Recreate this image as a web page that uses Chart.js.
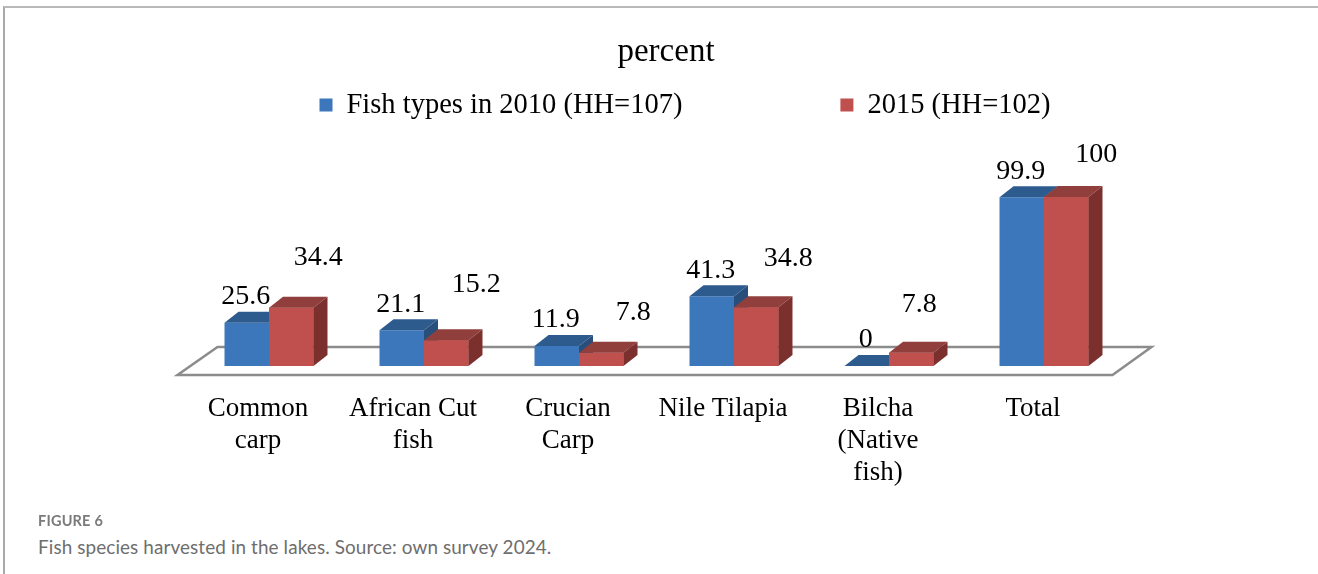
<!DOCTYPE html>
<html>
<head>
<meta charset="utf-8">
<script src="https://cdn.jsdelivr.net/npm/chart.js@4.4.1/dist/chart.umd.min.js"></script>
<style>
  html, body { margin: 0; padding: 0; background: #fff; overflow: hidden; }
  .frame { position: absolute; left: 3px; top: 6px; width: 1400px; height: 700px;
           border-top: 2px solid #b9b9b9; border-left: 2px solid #a9a9a9; }
  .wrap { position: absolute; left: 0; top: 0; width: 1318px; height: 522px; }
  .fig-no { position: absolute; left: 38px; top: 512px; font: 700 14.5px Lato, sans-serif;
            color: #7a7a7a; letter-spacing: 0.2px; }
  .fig-cap { position: absolute; left: 38px; top: 535px; font: 400 18.9px Lato, sans-serif;
             color: #6e6e6e; letter-spacing: 0.1px; }
</style>
</head>
<body>
<div class="frame"></div>
<div class="wrap"><canvas id="fishChart"></canvas></div>
<div class="fig-no">FIGURE 6</div>
<div class="fig-cap">Fish species harvested in the lakes. Source: own survey 2024.</div>

<script>
// categories and survey shares (percent of households)
const categories = [['Common', 'carp'], ['African Cut', 'fish'], ['Crucian', 'Carp'], 'Nile Tilapia', ['Bilcha', '(Native', 'fish)'], 'Total'];
const share2010 = [25.6, 21.1, 11.9, 41.3, 0, 99.9];
const share2015 = [34.4, 15.2, 7.8, 34.8, 7.8, 100];
const seriesNames = ['Fish types in 2010 (HH=107)', '2015 (HH=102)'];

// colours: front, top, side
const blue = { front: '#3c77bc', top: '#2e5b8e', side: '#284f7c' };
const red = { front: '#c0504d', top: '#913f3c', side: '#7b302e' };

const serif = "'Liberation Serif', 'Times New Roman', serif";
const depth = { dx: 14, dy: -11 };

// where the value labels sit relative to the top of each bar
const labelOffset2010 = [-1, -26];
const labelOffset2015 = [[27, -50], [30, -56], [32, -40], [32, -49], [8, -48], [30, -42]];

function poly(ctx, pts, color) {
    ctx.beginPath();
    ctx.moveTo(pts[0][0], pts[0][1]);
    for (let k = 1; k < pts.length; k++) ctx.lineTo(pts[k][0], pts[k][1]);
    ctx.closePath();
    ctx.fillStyle = color;
    ctx.fill();
}

// floor, 3d faces, value labels and legend
const bars3d = {
    id: 'bars3d',
    beforeDatasetsDraw(chart) {
        const { ctx, chartArea: a } = chart;
        const base = chart.scales.y.getPixelForValue(0);
        ctx.save();
        ctx.strokeStyle = '#8c8c8c';
        ctx.lineWidth = 2.5;
        ctx.beginPath();
        ctx.moveTo(a.left - 14, base + 9);
        ctx.lineTo(a.right - 9, base + 9);
        ctx.lineTo(a.right + 30, base - 19);
        ctx.lineTo(a.left + 26, base - 19);
        ctx.closePath();
        ctx.stroke();
        ctx.restore();
    },
    afterDatasetsDraw(chart) {
        const ctx = chart.ctx;
        const metas = [chart.getDatasetMeta(0), chart.getDatasetMeta(1)];
        const looks = [blue, red];
        ctx.save();
        categories.forEach((_, i) => {
            metas.forEach((meta, d) => {
                const { x, y, base, width } = meta.data[i].getProps(['x', 'y', 'base', 'width'], true);
                const l = x - width / 2, r = x + width / 2;
                const c = looks[d];
                if (d === 1) poly(ctx, [[l, y], [r, y], [r, base], [l, base]], c.front);
                poly(ctx, [[l, y], [r, y], [r + depth.dx, y + depth.dy], [l + depth.dx, y + depth.dy]], c.top);
                poly(ctx, [[r, y], [r + depth.dx, y + depth.dy], [r + depth.dx, base + depth.dy], [r, base]], c.side);
            });
        });

        // value labels
        ctx.fillStyle = '#000';
        ctx.font = '28px ' + serif;
        ctx.textAlign = 'center';
        ctx.textBaseline = 'middle';
        metas.forEach((meta, d) => {
            const values = d === 0 ? share2010 : share2015;
            meta.data.forEach((bar, i) => {
                const off = d === 0 ? labelOffset2010 : labelOffset2015[i];
                ctx.fillText(String(values[i]), bar.x + off[0], bar.y + off[1]);
            });
        });

        // legend
        ctx.font = '28.5px ' + serif;
        ctx.textAlign = 'left';
        const box = 13, gap = 14, spacing = 158, legendY = 106, legendCenter = 685;
        const widths = seriesNames.map(t => ctx.measureText(t).width);
        const total = widths.reduce((s, w) => s + box + gap + w, 0) + spacing;
        let lx = legendCenter - total / 2;
        seriesNames.forEach((name, d) => {
            ctx.fillStyle = looks[d].front;
            ctx.fillRect(lx, legendY - box / 2 - 1, box, box);
            ctx.fillStyle = '#000';
            ctx.fillText(name, lx + box + gap, legendY);
            lx += box + gap + widths[d] + spacing;
        });
        ctx.restore();
    }
};

new Chart(document.getElementById('fishChart'), {
    type: 'bar',
    data: {
        labels: categories,
        datasets: [
            { label: seriesNames[0], data: share2010, backgroundColor: blue.front },
            { label: seriesNames[1], data: share2015, backgroundColor: red.front }
        ]
    },
    options: {
        responsive: true,
        maintainAspectRatio: false,
        animation: false,
        layout: { padding: { top: 0, left: 191.5, right: 177.5, bottom: 6 } },
        datasets: { bar: { categoryPercentage: 0.574, barPercentage: 1, borderWidth: 0 } },
        plugins: {
            legend: { display: false },
            tooltip: { enabled: false },
            title: {
                display: true,
                text: 'percent',
                color: '#000',
                font: { family: serif, size: 33, weight: 'normal', lineHeight: 1.2 },
                padding: { top: 32.7, bottom: 124.7 }
            }
        },
        scales: {
            x: {
                grid: { display: false, drawTicks: false },
                border: { display: false },
                ticks: {
                    color: '#000',
                    font: { family: serif, size: 27, lineHeight: '32px' },
                    padding: 27,
                    labelOffset: -11,
                    maxRotation: 0,
                    autoSkip: false
                }
            },
            y: {
                position: 'right',
                min: 0,
                max: 100,
                grid: { display: false, drawTicks: false },
                border: { display: false },
                ticks: { display: false },
                afterFit: s => { s.width = 19; }
            }
        }
    },
    plugins: [bars3d]
});
</script>
</body>
</html>
